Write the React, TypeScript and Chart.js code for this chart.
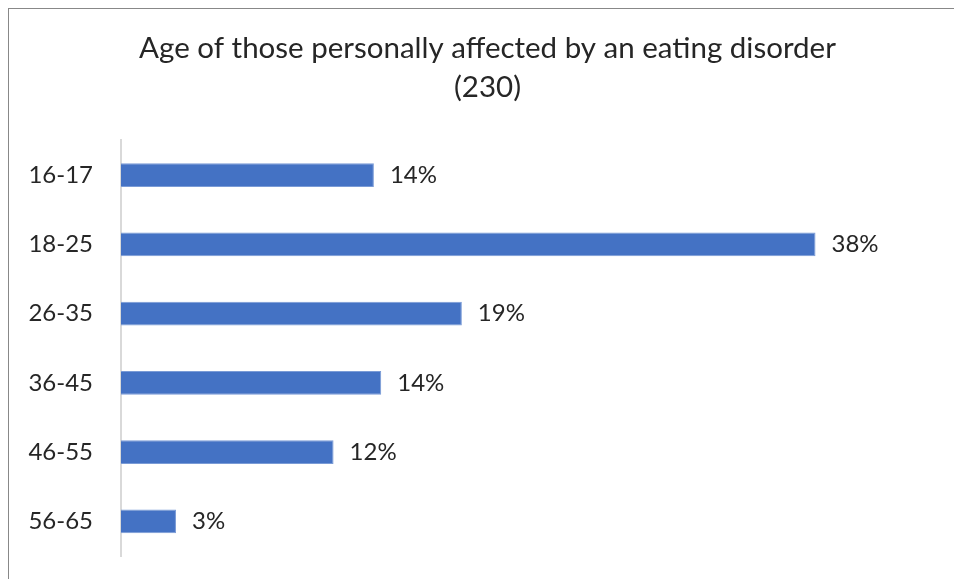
import React, { useEffect, useRef } from "react";
import { Chart, registerables } from "chart.js";

Chart.register(...registerables);

const TITLE_LINES = ["Age of those personally affected by an eating disorder", "(230)"];
const AGE_GROUPS = ["16-17", "18-25", "26-35", "36-45", "46-55", "56-65"];
const SHARE_PCT = [13.8, 37.9, 18.6, 14.2, 11.6, 3.0];
const VALUE_LABELS = ["14%", "38%", "19%", "14%", "12%", "3%"];
const X_MAX = 40;

const FONT = "Lato, 'Open Sans', sans-serif";
const TEXT = "#262626";

const valueLabelPlugin = {
  id: "valueLabels",
  afterDatasetsDraw(chart: any) {
    const ctx = chart.ctx;
    const meta = chart.getDatasetMeta(0);
    ctx.save();
    ctx.font = `24px ${FONT}`;
    ctx.fillStyle = TEXT;
    ctx.textAlign = "left";
    ctx.textBaseline = "middle";
    meta.data.forEach((bar: any, i: number) => {
      ctx.fillText(VALUE_LABELS[i], bar.x + 16, bar.y);
    });
    ctx.restore();
  },
};

export default function App() {
  const ref = useRef<HTMLCanvasElement>(null);
  useEffect(() => {
    if (!ref.current) return;
    const chart = new Chart(ref.current, {
      type: "bar",
      data: {
        labels: AGE_GROUPS,
        datasets: [
          {
            data: SHARE_PCT,
            backgroundColor: "#4472C4",
            borderColor: "#7a9bd6",
            borderWidth: 1,
            categoryPercentage: 1,
            barPercentage: 0.346,
          },
        ],
      },
      options: {
        indexAxis: "y",
        responsive: false,
        animation: false,
        devicePixelRatio: 1,
        layout: { padding: { left: 0, right: 100, top: 0, bottom: 23 } },
        plugins: {
          legend: { display: false },
          tooltip: { enabled: false },
          title: {
            display: true,
            fullSize: false,
            text: TITLE_LINES,
            color: TEXT,
            font: { family: FONT, size: 29.5, weight: "normal", lineHeight: 1.322 },
            padding: { top: 19.5, bottom: 34 },
          },
        },
        scales: {
          x: { display: false, min: 0, max: X_MAX },
          y: {
            afterFit: (scale: any) => {
              scale.width = 112;
              scale.paddingTop = 0;
              scale.paddingBottom = 0;
            },
            grid: { display: false, drawTicks: false },
            border: { display: true, color: "#d9d9d9", width: 2 },
            ticks: {
              color: TEXT,
              padding: 28,
              font: { family: FONT, size: 24 },
            },
          },
        },
      },
      plugins: [valueLabelPlugin],
    });
    return () => chart.destroy();
  }, []);

  return (
    <div
      style={{
        position: "fixed",
        left: 8,
        top: 8,
        width: 946,
        height: 571,
        boxSizing: "border-box",
        borderTop: "1px solid #888",
        borderLeft: "1px solid #888",
        background: "#fff",
      }}
    >
      <canvas ref={ref} width={945} height={570} style={{ display: "block" }} />
    </div>
  );
}
